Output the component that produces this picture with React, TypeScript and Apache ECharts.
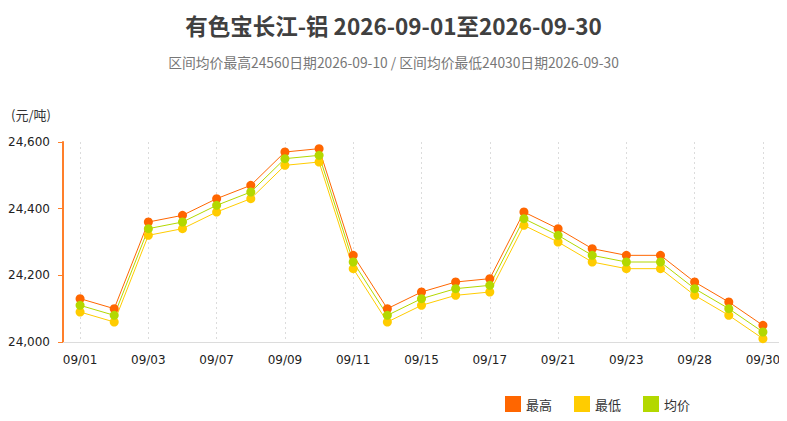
import { useRef, useEffect } from 'react';
import * as echarts from 'echarts';

const dates = [
    '09/01', '09/02', '09/03', '09/04', '09/07', '09/08', '09/09', '09/10', '09/11', '09/14', '09/15',
    '09/16', '09/17', '09/18', '09/21', '09/22', '09/23', '09/24', '09/28', '09/29', '09/30',
];
const highPrices = [
    24130, 24100, 24360, 24380, 24430, 24470, 24570, 24580, 24260, 24100, 24150,
    24180, 24190, 24390, 24340, 24280, 24260, 24260, 24180, 24120, 24050,
];
const lowPrices = [
    24090, 24060, 24320, 24340, 24390, 24430, 24530, 24540, 24220, 24060, 24110,
    24140, 24150, 24350, 24300, 24240, 24220, 24220, 24140, 24080, 24010,
];
const avgPrices = [
    24110, 24080, 24340, 24360, 24410, 24450, 24550, 24560, 24240, 24080, 24130,
    24160, 24170, 24370, 24320, 24260, 24240, 24240, 24160, 24100, 24030,
];

const FONT = '"Noto Sans CJK SC", "Noto Sans", sans-serif';
const NUM_FONT = '"DejaVu Sans", sans-serif';

const PriceChart: React.FC = () => {
    const chartRef = useRef<HTMLDivElement>(null);

    useEffect(() => {
        if (!chartRef.current) return;
        const chart = echarts.init(chartRef.current, undefined, { renderer: 'svg' });

        const line = (name: string, color: string, data: number[]) => ({
            name,
            type: 'line' as const,
            data,
            symbol: 'circle',
            symbolSize: 9,
            itemStyle: { color },
            lineStyle: { color, width: 1 },
        });

        const option: echarts.EChartsOption = {
            animation: false,
            textStyle: { fontFamily: FONT },
            title: {
                text: '有色宝长江-铝 2026-09-01至2026-09-30',
                subtext: '区间均价最高24560日期2026-09-10 / 区间均价最低24030日期2026-09-30',
                left: 'center',
                top: 9,
                itemGap: 19,
                textStyle: { fontSize: 22.5, fontWeight: 'bold', color: '#404040', fontFamily: FONT },
                subtextStyle: { fontSize: 13.8, color: '#777', fontFamily: FONT },
            },
            legend: {
                data: ['最高', '最低', '均价'],
                right: 92,
                bottom: 4,
                icon: 'rect',
                itemWidth: 16,
                itemHeight: 16,
                itemGap: 22,
                textStyle: { fontSize: 13, color: '#333' },
            },
            graphic: [
                {
                    type: 'text',
                    left: 11,
                    top: 108,
                    style: { text: '(元/吨)', fontSize: 13, fill: '#333', fontFamily: FONT },
                },
            ],
            grid: { left: 63, right: 7, top: 142, bottom: 79 },
            xAxis: {
                type: 'category',
                data: dates,
                boundaryGap: true,
                axisLine: { lineStyle: { color: '#dcdcdc' } },
                axisTick: { alignWithLabel: true, interval: 1, length: 6, lineStyle: { color: '#dcdcdc' } },
                axisLabel: { interval: 1, fontSize: 12, color: '#222', margin: 12, fontFamily: NUM_FONT },
                splitLine: {
                    show: true,
                    interval: 1,
                    alignWithLabel: true,
                    lineStyle: { type: [2, 3], color: '#dcdcdc' },
                } as any,
            },
            yAxis: {
                type: 'value',
                min: 24000,
                max: 24600,
                interval: 200,
                axisLine: { show: true, lineStyle: { color: '#ff7f2a', width: 2 } },
                axisTick: { show: true, length: 5, lineStyle: { color: '#ff7f2a' } },
                axisLabel: { fontSize: 12, color: '#222', margin: 13, fontFamily: NUM_FONT },
                splitLine: { show: false },
            },
            series: [
                line('最高', '#ff6600', highPrices),
                line('最低', '#ffcc00', lowPrices),
                line('均价', '#b3d800', avgPrices),
            ],
        };

        chart.setOption(option);

        return () => {
            chart.dispose();
        };
    }, []);

    return <div ref={chartRef} style={{ width: '787px', height: '421px' }} />;
};

export default function App() {
    return (
        <div style={{ margin: -8 }}>
            <PriceChart />
        </div>
    );
}
